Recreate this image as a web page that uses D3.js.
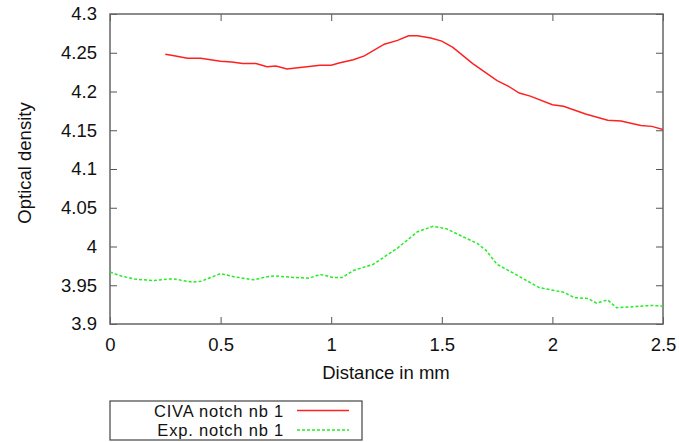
<!DOCTYPE html>
<html>
<head>
<meta charset="utf-8">
<script src="https://cdn.jsdelivr.net/npm/d3@7"></script>
<style>
  html, body { margin: 0; padding: 0; background: #fff; }
  svg { display: block; font-family: "Liberation Sans", Arial, sans-serif; }
</style>
</head>
<body>
<svg id="chart" width="679" height="442"></svg>
<script>
// Simulated (CIVA) and measured optical density profiles across notch nb 1
const civaDistance = [0.25, 0.29, 0.35, 0.41, 0.50, 0.55, 0.60, 0.66, 0.71, 0.75, 0.80, 0.86, 0.95, 1.00,
  1.04, 1.10, 1.15, 1.24, 1.30, 1.35, 1.39, 1.45, 1.50, 1.55, 1.64, 1.75, 1.80, 1.85, 1.90, 2.00,
  2.05, 2.15, 2.25, 2.31, 2.40, 2.45, 2.50];
const civaDensity = [4.248, 4.246, 4.243, 4.243, 4.239, 4.238, 4.236, 4.236, 4.232, 4.233, 4.229, 4.231, 4.234, 4.234,
  4.237, 4.241, 4.246, 4.261, 4.266, 4.272, 4.272, 4.269, 4.265, 4.257, 4.236, 4.214, 4.207, 4.198, 4.194, 4.183,
  4.181, 4.171, 4.163, 4.162, 4.156, 4.155, 4.151];

const expDistance = [0.00, 0.05, 0.11, 0.20, 0.26, 0.29, 0.37, 0.41, 0.50, 0.56, 0.65, 0.71, 0.75, 0.83, 0.90, 0.95,
  1.01, 1.05, 1.10, 1.19, 1.30, 1.39, 1.46, 1.52, 1.60, 1.66, 1.70, 1.75, 1.84, 1.94, 2.05, 2.10,
  2.16, 2.20, 2.25, 2.29, 2.35, 2.45, 2.50];
const expDensity = [3.967, 3.962, 3.958, 3.956, 3.958, 3.958, 3.954, 3.955, 3.965, 3.961, 3.957, 3.961, 3.962, 3.960, 3.959, 3.964,
  3.960, 3.960, 3.969, 3.977, 3.998, 4.019, 4.026, 4.023, 4.012, 4.004, 3.995, 3.977, 3.963, 3.947, 3.941, 3.934,
  3.933, 3.927, 3.931, 3.921, 3.922, 3.924, 3.923];

const xTicks = [0, 0.5, 1, 1.5, 2, 2.5];
const yTicks = [3.9, 3.95, 4, 4.05, 4.1, 4.15, 4.2, 4.25, 4.3];
const seriesNames = ["CIVA notch nb 1", "Exp. notch nb 1"];

const svg = d3.select("#chart");
const plot = { left: 110, right: 663, top: 14, bottom: 324 };
const fontSize = "18.5px";
const textColor = "#111";

const x = d3.scaleLinear().domain([0, 2.5]).range([plot.left, plot.right]);
const y = d3.scaleLinear().domain([3.9, 4.3]).range([plot.bottom, plot.top]);

const tickLen = 7;
const fmt = d => String(+d.toFixed(2));

// Tick marks pointing into the plot on all four sides
const axisColor = "#555";
const xAxisBottom = d3.axisBottom(x).tickValues(xTicks).tickSizeInner(-tickLen).tickSizeOuter(0).tickPadding(14).tickFormat(fmt);
const xAxisTop = d3.axisTop(x).tickValues(xTicks).tickSizeInner(-tickLen).tickSizeOuter(0).tickFormat("");
const yAxisLeft = d3.axisLeft(y).tickValues(yTicks).tickSizeInner(-tickLen).tickSizeOuter(0).tickPadding(13).tickFormat(fmt);
const yAxisRight = d3.axisRight(y).tickValues(yTicks).tickSizeInner(-tickLen).tickSizeOuter(0).tickFormat("");

function style(g) {
  g.select(".domain").remove();
  g.selectAll(".tick line").attr("stroke", axisColor).attr("stroke-width", 1);
  g.selectAll(".tick text").attr("fill", textColor).style("font-size", fontSize)
    .style("font-family", "'Liberation Sans', Arial, sans-serif");
}

svg.append("g").attr("transform", `translate(0,${plot.bottom})`).call(xAxisBottom).call(style);
svg.append("g").attr("transform", `translate(0,${plot.top})`).call(xAxisTop).call(style);
svg.append("g").attr("transform", `translate(${plot.left},0)`).call(yAxisLeft).call(style);
svg.append("g").attr("transform", `translate(${plot.right},0)`).call(yAxisRight).call(style);

// Frame
svg.append("rect")
  .attr("x", plot.left).attr("y", plot.top)
  .attr("width", plot.right - plot.left).attr("height", plot.bottom - plot.top)
  .attr("fill", "none").attr("stroke", "#666").attr("stroke-width", 1.5);

// Axis titles
svg.append("text")
  .attr("x", 386).attr("y", 379)
  .attr("text-anchor", "middle").attr("fill", textColor).style("font-size", fontSize)
  .text("Distance in mm");
svg.append("text")
  .attr("transform", `translate(31,163) rotate(-90)`)
  .attr("text-anchor", "middle").attr("fill", textColor).style("font-size", fontSize)
  .text("Optical density");

// Curves
const line = d3.line().x(d => x(d[0])).y(d => y(d[1]));
const civa = d3.zip(civaDistance, civaDensity);
const exp = d3.zip(expDistance, expDensity);

svg.append("clipPath").attr("id", "plotClip").append("rect")
  .attr("x", plot.left).attr("y", plot.top)
  .attr("width", plot.right - plot.left).attr("height", plot.bottom - plot.top);

const curves = svg.append("g").attr("clip-path", "url(#plotClip)");
curves.append("path").datum(civa).attr("d", line)
  .attr("fill", "none").attr("stroke", "#ff2020").attr("stroke-width", 1.5);
curves.append("path").datum(exp).attr("d", line)
  .attr("fill", "none").attr("stroke", "#22ee22").attr("stroke-width", 1.5)
  .attr("stroke-dasharray", "3,2");

// Legend
const legend = svg.append("g");
legend.append("rect")
  .attr("x", 110).attr("y", 401).attr("width", 252).attr("height", 39)
  .attr("fill", "#fff").attr("stroke", "#444").attr("stroke-width", 1.2);
const rows = [
  { name: seriesNames[0], color: "#ff2020", dash: null },
  { name: seriesNames[1], color: "#22ee22", dash: "3,2" }
];
rows.forEach((r, i) => {
  const baseline = 417 + i * 19;
  legend.append("text")
    .attr("x", 284).attr("y", baseline)
    .attr("text-anchor", "end").attr("fill", textColor)
    .style("font-size", "16.5px").style("letter-spacing", "0.8px")
    .text(r.name);
  const ly = 410.5 + i * 19.5;
  legend.append("line")
    .attr("x1", 297).attr("x2", 349).attr("y1", ly).attr("y2", ly)
    .attr("stroke", r.color).attr("stroke-width", 1.5)
    .attr("stroke-dasharray", r.dash);
});
</script>
</body>
</html>
